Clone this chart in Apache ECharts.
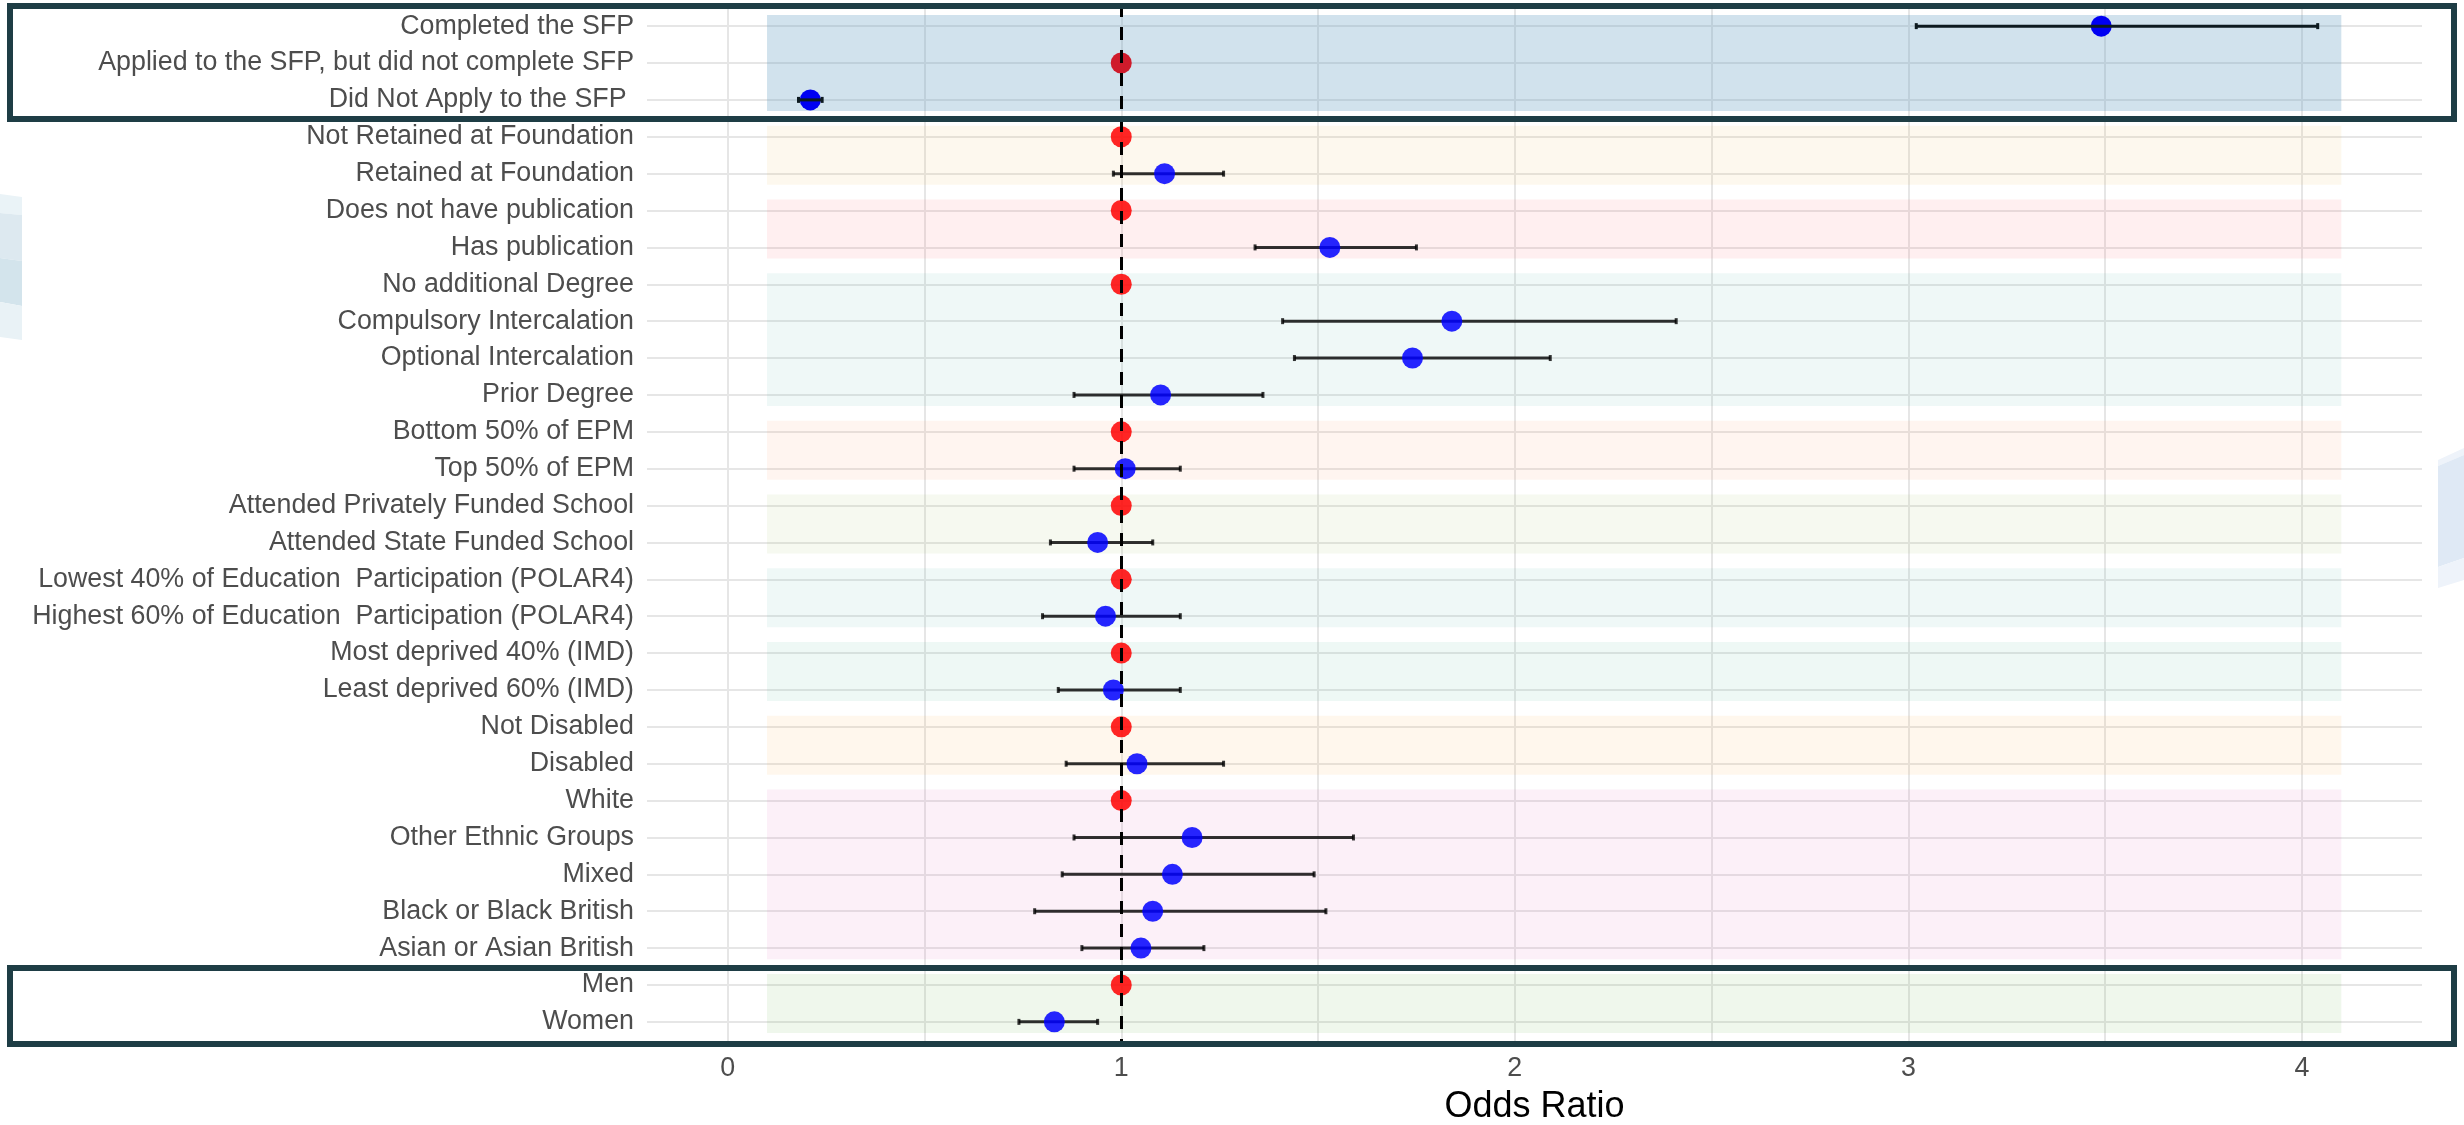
<!DOCTYPE html>
<html>
<head>
<meta charset="utf-8">
<title>Odds Ratio forest plot</title>
<script src="https://cdn.jsdelivr.net/npm/echarts@6.0.0/dist/echarts.min.js"></script>
<style>
  html, body { margin: 0; padding: 0; background: #ffffff; }
  #chart { width: 2464px; height: 1125px; }
</style>
</head>
<body>
<div id="chart"></div>
<script>
// rows, top to bottom
const categories = [
  'Completed the SFP',
  'Applied to the SFP, but did not complete SFP',
  'Did Not Apply to the SFP ',
  'Not Retained at Foundation',
  'Retained at Foundation',
  'Does not have publication',
  'Has publication',
  'No additional Degree',
  'Compulsory Intercalation',
  'Optional Intercalation',
  'Prior Degree',
  'Bottom 50% of EPM',
  'Top 50% of EPM',
  'Attended Privately Funded School',
  'Attended State Funded School',
  'Lowest 40% of Education  Participation (POLAR4)',
  'Highest 60% of Education  Participation (POLAR4)',
  'Most deprived 40% (IMD)',
  'Least deprived 60% (IMD)',
  'Not Disabled',
  'Disabled',
  'White',
  'Other Ethnic Groups',
  'Mixed',
  'Black or Black British',
  'Asian or Asian British',
  'Men',
  'Women'
];

// null CI = reference category
const oddsRatio = [3.49, 1, 0.21, 1, 1.11, 1, 1.53, 1, 1.84, 1.74, 1.10, 1, 1.01, 1, 0.94,
  1, 0.96, 1, 0.98, 1, 1.04, 1, 1.18, 1.13, 1.08, 1.05, 1, 0.83];
const lowerCI = [3.02, null, 0.18, null, 0.98, null, 1.34, null, 1.41, 1.44, 0.88, null, 0.88, null, 0.82,
  null, 0.80, null, 0.84, null, 0.86, null, 0.88, 0.85, 0.78, 0.90, null, 0.74];
const upperCI = [4.04, null, 0.24, null, 1.26, null, 1.75, null, 2.41, 2.09, 1.36, null, 1.15, null, 1.08,
  null, 1.15, null, 1.15, null, 1.26, null, 1.59, 1.49, 1.52, 1.21, null, 0.94];

// shaded groups (row ranges)
const groupStart = [0, 3, 5, 7, 11, 13, 15, 17, 19, 21, 26];
const groupEnd   = [2, 4, 6, 10, 12, 14, 16, 18, 20, 25, 27];
const boxedGroups = [0, 10];

const xLabelTicks = [0, 1, 2, 3, 4];
const xGridTicks = [0, 0.5, 1, 1.5, 2, 2.5, 3, 3.5, 4];
const refValue = 1;
const bandFrom = 0.1, bandTo = 4.1;

const bandColors = [
  'rgba(102,158,195,0.30)',
  'rgba(235,185,85,0.10)',
  'rgba(255,95,105,0.10)',
  'rgba(95,185,175,0.10)',
  'rgba(255,155,105,0.10)',
  'rgba(165,195,105,0.10)',
  'rgba(95,185,175,0.10)',
  'rgba(85,185,155,0.10)',
  'rgba(255,175,75,0.10)',
  'rgba(225,105,185,0.10)',
  'rgba(95,175,65,0.10)'
];
const boxPad = [[0.545, 0.515], [0.46, 0.6]];

const rowGroup = categories.map((_, r) => groupStart.findIndex((s, g) => r >= s && r <= groupEnd[g]));
const inTopBox = r => rowGroup[r] === boxedGroups[0];

const chart = echarts.init(document.getElementById('chart'));

const bandData = groupStart.map((s, g) => [bandFrom, bandTo, s, groupEnd[g]]);
const barRows = categories.map((_, r) => r).filter(r => lowerCI[r] !== null);
const barData = top => barRows.filter(r => inTopBox(r) === top).map(r => [r, lowerCI[r], upperCI[r]]);
const pointData = oddsRatio.map((v, r) => [v, r]);
const boxData = boxedGroups.map((g, i) => [groupStart[g], groupEnd[g], i]);

function renderBars(color) {
  return function (params, api) {
    const y = api.value(0);
    const a = api.coord([api.value(1), y]);
    const b = api.coord([api.value(2), y]);
    const cap = 3;
    const style = { stroke: color, lineWidth: 3 };
    return {
      type: 'group',
      children: [
        { type: 'line', shape: { x1: a[0], y1: a[1], x2: b[0], y2: b[1] }, style },
        { type: 'line', shape: { x1: a[0], y1: a[1] - cap, x2: a[0], y2: a[1] + cap }, style },
        { type: 'line', shape: { x1: b[0], y1: b[1] - cap, x2: b[0], y2: b[1] + cap }, style }
      ]
    };
  };
}

const option = {
  animation: false,
  backgroundColor: '#ffffff',
  textStyle: { fontFamily: '"Liberation Sans", Arial, sans-serif' },
  graphic: [
    { type: 'polygon', z: -10, shape: { points: [[0, 194], [22, 197], [22, 215], [0, 213]] }, style: { fill: '#eaf3f7' } },
    { type: 'polygon', z: -10, shape: { points: [[0, 213], [22, 215], [22, 261], [0, 258]] }, style: { fill: '#dde9f0' } },
    { type: 'polygon', z: -10, shape: { points: [[0, 258], [22, 261], [22, 306], [0, 302]] }, style: { fill: '#d3e4ec' } },
    { type: 'polygon', z: -10, shape: { points: [[0, 302], [22, 306], [22, 340], [0, 337]] }, style: { fill: '#e9f2f6' } },
    { type: 'polygon', z: -10, shape: { points: [[2438, 460], [2464, 448], [2464, 455], [2438, 466]] }, style: { fill: '#eef3fa' } },
    { type: 'polygon', z: -10, shape: { points: [[2438, 466], [2464, 455], [2464, 558], [2438, 567]] }, style: { fill: '#dfe9f5' } },
    { type: 'polygon', z: -10, shape: { points: [[2438, 567], [2464, 558], [2464, 580], [2438, 588]] }, style: { fill: '#eef3fa' } }
  ],
  grid: {
    left: 647,
    top: 4,
    width: 1775,
    height: 1040,
    containLabel: false,
    outerBoundsMode: 'none'
  },
  xAxis: {
    type: 'value',
    min: -0.205,
    max: 4.305,
    name: 'Odds Ratio',
    nameLocation: 'middle',
    nameGap: 45,
    nameTextStyle: { fontSize: 36, color: '#000000' },
    axisLine: { show: false },
    axisTick: { show: false, customValues: xGridTicks },
    axisLabel: {
      customValues: xLabelTicks,
      fontSize: 26.8,
      color: '#4d4d4d',
      margin: 11
    },
    splitLine: { show: true, lineStyle: { color: '#e6e6e6', width: 2 } }
  },
  yAxis: {
    type: 'value',
    inverse: true,
    min: -0.6,
    max: categories.length - 0.4,
    axisLine: { show: false },
    axisTick: { show: false, customValues: categories.map((_, i) => i) },
    axisLabel: {
      customValues: categories.map((_, i) => i),
      formatter: v => categories[Math.round(v)],
      fontSize: 26.8,
      color: '#4d4d4d',
      margin: 13
    },
    splitLine: { show: true, lineStyle: { color: '#e6e6e6', width: 2 } }
  },
  series: [
    {
      type: 'custom',
      name: 'bands',
      z: 1,
      data: bandData,
      renderItem: function (params, api) {
        const p0 = api.coord([api.value(0), api.value(2) - 0.3]);
        const p1 = api.coord([api.value(1), api.value(3) + 0.3]);
        return {
          type: 'rect',
          shape: { x: p0[0], y: p0[1], width: p1[0] - p0[0], height: p1[1] - p0[1] },
          style: { fill: bandColors[params.dataIndex] }
        };
      }
    },
    {
      type: 'custom',
      name: 'ci',
      z: 2,
      data: barData(false),
      renderItem: renderBars('rgba(0,0,0,0.8)')
    },
    {
      type: 'scatter',
      name: 'odds',
      z: 3,
      symbol: 'circle',
      symbolSize: 21,
      data: pointData,
      itemStyle: {
        opacity: 1,
        color: function (p) {
          const r = p.dataIndex;
          const isRef = lowerCI[r] === null;
          if (inTopBox(r)) return isRef ? '#cf1b2b' : '#0000f2';
          return isRef ? 'rgba(255,0,0,0.85)' : 'rgba(0,0,255,0.85)';
        }
      },
      markLine: {
        silent: true,
        symbol: ['none', 'none'],
        label: { show: false },
        lineStyle: { color: '#000000', type: [13, 10], width: 3 },
        data: [{ xAxis: refValue }]
      }
    },
    {
      type: 'custom',
      name: 'ciTop',
      z: 4,
      data: barData(true),
      renderItem: renderBars('#0d1a20')
    },
    {
      type: 'custom',
      name: 'boxes',
      z: 6,
      clip: false,
      data: boxData,
      renderItem: function (params, api) {
        const i = api.value(2);
        const yTop = api.coord([0, api.value(0) - boxPad[i][0]])[1];
        const yBot = api.coord([0, api.value(1) + boxPad[i][1]])[1];
        const x0 = 10, x1 = api.getWidth() - 10;
        return {
          type: 'rect',
          shape: { x: x0, y: yTop, width: x1 - x0, height: yBot - yTop },
          style: { fill: null, stroke: '#1e3d45', lineWidth: 6 }
        };
      }
    }
  ]
};

chart.setOption(option);
window.addEventListener('resize', chart.resize);
</script>
</body>
</html>
